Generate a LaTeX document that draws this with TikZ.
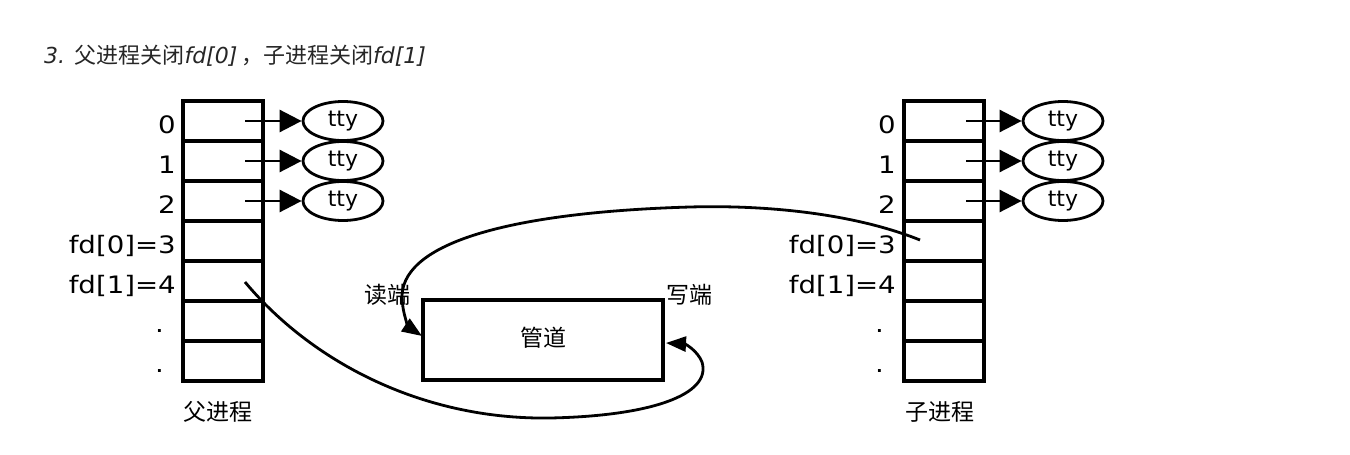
\documentclass[tikz,border=0pt]{standalone}
\usepackage{fontspec}
\setmainfont{DejaVu Sans}
\newfontfamily\cjk{Noto Sans CJK SC}
\newfontfamily\lab[FakeStretch=1.15]{DejaVu Sans}
\usetikzlibrary{arrows.meta,shapes.geometric}
\tikzset{
  cell/.style={draw, line width=3.2pt, minimum width=80pt, minimum height=40pt, inner sep=0pt, outer sep=0pt},
  tty/.style={draw, ellipse, line width=2.8pt, minimum width=80pt, minimum height=39pt, inner sep=0pt, font=\fontsize{22}{22}\selectfont},
  idx/.style={anchor=base east, inner sep=0pt, font=\lab\fontsize{24}{24}\selectfont},
  cn/.style={inner sep=0pt, font=\cjk\fontsize{23}{23}\selectfont},
  ptr/.style={line width=2.8pt, -{Triangle[length=22pt,width=22pt]}},
  curv/.style={line width=2.8pt, -{Triangle[length=20pt,width=15pt]}}
}
\begin{document}
\begin{tikzpicture}[x=1pt,y=-1pt]
\useasboundingbox[fill=white] (0,0) rectangle (1350,455);
% title
\node[anchor=base west, inner sep=0pt, font=\fontsize{22}{22}\selectfont, text=black!85] (title) at (44,63)
  {\textit{3.} {\cjk 父进程关闭}\textit{fd[0]}{\cjk \,，子进程关闭}\textit{fd[1]}};
% tables
\foreach \pre/\x in {p/223, c/944} {
  \foreach \i in {0,...,6} {
    \node[cell] (\pre\i) at (\x, {121+40*\i}) {};
  }
}
% labels
\foreach \pre/\lx in {p/176, c/896} {
  \node[idx] (\pre l0) at (\lx,133) {0};
  \node[idx] (\pre l1) at (\lx,173) {1};
  \node[idx] (\pre l2) at (\lx,213) {2};
  \node[idx] (\pre l3) at (\lx,253) {fd[0]=3};
  \node[idx] (\pre l4) at (\lx,293) {fd[1]=4};
  \node[idx] (\pre l5) at (\lx-12,332) {.};
  \node[idx] (\pre l6) at (\lx-12,372) {.};
}
% tty ellipses
\foreach \pre/\x in {p/343, c/1063} {
  \foreach \i in {0,1,2} {
    \node[tty] (\pre t\i) at (\x, {121+40*\i}) {tty};
    \draw[ptr, shorten <=22pt] (\pre\i.center) -- (\pre t\i.west);
  }
}
\node[cn] (plab) at (218,412) {父进程};
\node[cn] (clab) at (940,412) {子进程};
% pipe
\node[draw, line width=3.2pt, minimum width=240pt, minimum height=80pt, inner sep=0pt, outer sep=0pt] (pipe) at (543,340) {};
\node[cn] (pname) at (543,338) {管道};
\node[cn] (rd) at (387,295) {读端};
\node[cn] (wr) at (689,295) {写端};
% curves
\coordinate (cs) at (920,240);
\coordinate (ps) at (245,282);
\coordinate (rin) at (422,336);
\coordinate (win) at (666,343);
\draw[curv] (cs) .. controls (850,212) and (760,205) .. (690,207)
  .. controls (520,212) and (405,240) .. (402,295)
  .. controls (402,315) and (410,328) .. (rin);
\draw[curv] (ps) .. controls (310,360) and (420,420) .. (550,418)
  .. controls (650,416) and (712,395) .. (702,362)
  .. controls (697,350) and (685,344) .. (win);
\end{tikzpicture}
\end{document}
